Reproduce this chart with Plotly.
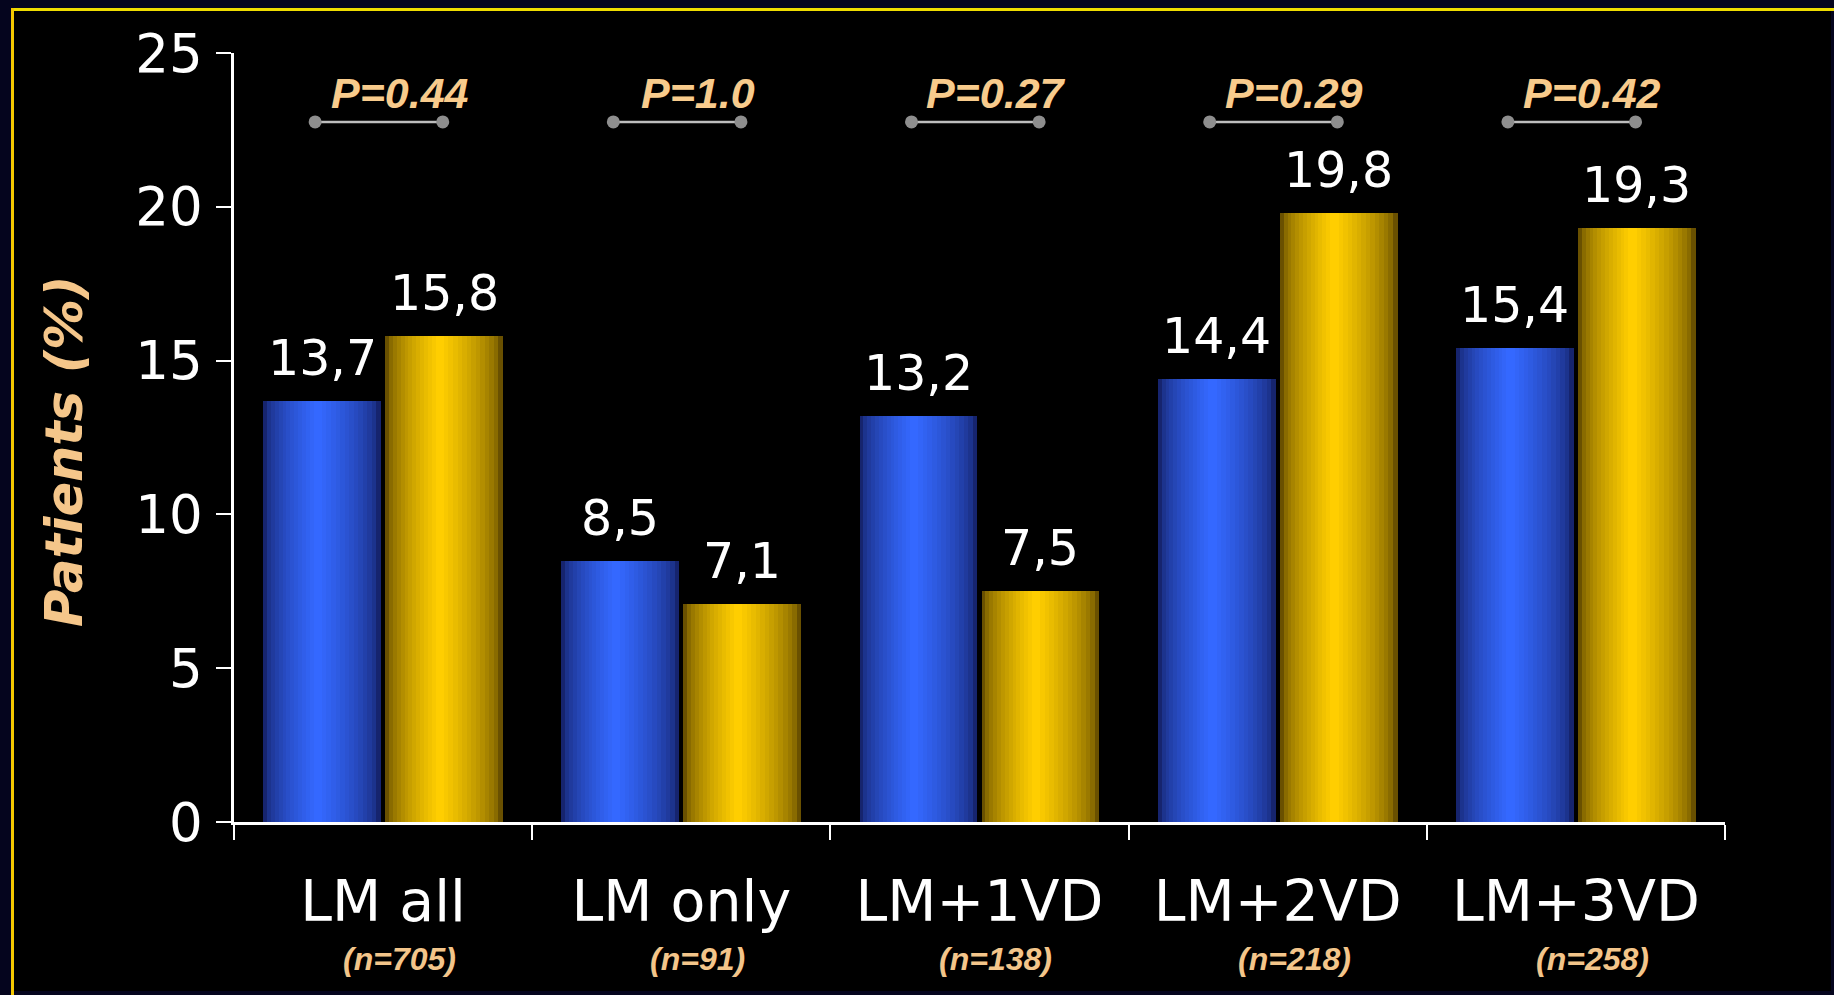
import plotly.graph_objects as go

# ---- data ---------------------------------------------------------------
categories = ["LM all", "LM only", "LM+1VD", "LM+2VD", "LM+3VD"]
n_counts = [705, 91, 138, 218, 258]
blue_values = [13.7, 8.5, 13.2, 14.4, 15.4]
gold_values = [15.8, 7.1, 7.5, 19.8, 19.3]
p_values = ["0.44", "1.0", "0.27", "0.29", "0.42"]

# ---- layout constants (pixels) -------------------------------------------
W, H = 1834, 995
ML, MR, MT, MB = 234, 109, 53, 173
PW, PH = W - ML - MR, H - MT - MB


def px_x(px):
    return (px - ML) / PW


def px_y(py):
    return (H - MB - py) / PH


def mix(c1, c2, t):
    r = [round(a + (b - a) * t) for a, b in zip(c1, c2)]
    return "rgb({},{},{})".format(*r)


def fmt(v):
    return f"{v:.1f}".replace(".", ",")


fig = go.Figure()

# cylinder-like shading: stacked layers, dark edges to bright core
BAR_W = 0.395
N_LAYERS = 14
series = [
    (blue_values, -0.402, (22, 36, 110), (52, 104, 255)),
    (gold_values, 0.007, (105, 80, 0), (255, 206, 0)),
]
for values, start, edge, core in series:
    for k in range(N_LAYERS):
        frac = 1 - k / N_LAYERS
        w = BAR_W * frac
        off = start + (BAR_W - w) * 0.46
        t = (k / (N_LAYERS - 1)) ** 0.6
        fig.add_trace(go.Bar(
            x=categories, y=values, width=w, offset=off,
            marker=dict(color=mix(edge, core, t), line=dict(width=0)),
            hoverinfo="skip", showlegend=False,
        ))

# value labels above the bars
annotations = []
for i, (b, g) in enumerate(zip(blue_values, gold_values)):
    for v, c in ((b, -0.402 + BAR_W / 2), (g, 0.007 + BAR_W / 2)):
        annotations.append(dict(
            x=i + c, y=v, xref="x", yref="y", text=fmt(v), showarrow=False,
            yanchor="bottom", yshift=12,
            font=dict(family="DejaVu Sans", size=49, color="white"),
        ))

# significance brackets with p-values (drawn on a linear twin of the x axis)
for i, p in enumerate(p_values):
    fig.add_trace(go.Scatter(
        x=[i - 0.228, i + 0.200], y=[22.76, 22.76], mode="lines+markers",
        xaxis="x2", yaxis="y",
        line=dict(color="#bdbdbd", width=2.5),
        marker=dict(color="#8e8e8e", size=13),
        hoverinfo="skip", showlegend=False,
    ))
    annotations.append(dict(
        x=i + 0.055, y=23.7, xref="x", yref="y", text=f"P={p}",
        showarrow=False,
        font=dict(family="Liberation Sans", size=43, color="#F8CB8C",
                  weight="bold", style="italic"),
    ))

# group sizes under the category names
for i, n in enumerate(n_counts):
    annotations.append(dict(
        x=i + 0.055, y=px_y(959), xref="x", yref="paper", text=f"(n={n})",
        showarrow=False, yanchor="middle",
        font=dict(family="Liberation Sans", size=32, color="#F3C58A",
                  weight="bold", style="italic"),
    ))

# y axis title
annotations.append(dict(
    x=px_x(64), y=px_y(451), xref="paper", yref="paper", text="Patients (%)",
    textangle=-90, showarrow=False, xanchor="center", yanchor="middle",
    font=dict(family="DejaVu Sans", size=51, color="#F5C68A",
              weight="bold", style="italic"),
))

shapes = [
    # black panel inside the frame
    dict(type="rect", xref="paper", yref="paper", layer="below",
         x0=px_x(14), x1=px_x(1831), y0=px_y(991), y1=px_y(11),
         fillcolor="black", line=dict(width=0)),
    # yellow frame lines (top and left)
    dict(type="line", xref="paper", yref="paper",
         x0=px_x(11), x1=px_x(W), y0=px_y(9.5), y1=px_y(9.5),
         line=dict(color="#EEDC00", width=3)),
    dict(type="line", xref="paper", yref="paper",
         x0=px_x(12.5), x1=px_x(12.5), y0=px_y(8), y1=px_y(H),
         line=dict(color="#F4C800", width=3)),
]

fig.update_layout(
    width=W, height=H,
    margin=dict(l=ML, r=MR, t=MT, b=MB, pad=0),
    paper_bgcolor="#05051e", plot_bgcolor="black",
    barmode="overlay", bargap=0,
    showlegend=False,
    annotations=annotations, shapes=shapes,
    xaxis=dict(
        type="category", range=[-0.5, 4.5],
        showline=True, linecolor="white", linewidth=2.5,
        ticks="outside", tickson="boundaries", ticklen=15, tickwidth=2,
        tickcolor="white", showgrid=False, zeroline=False,
        tickfont=dict(family="DejaVu Sans", size=57, color="white"),
        ticklabelstandoff=28,
    ),
    xaxis2=dict(
        type="linear", range=[-0.5, 4.5], overlaying="x",
        visible=False, showgrid=False, zeroline=False,
    ),
    yaxis=dict(
        range=[0, 25], tickvals=[0, 5, 10, 15, 20, 25],
        showline=True, linecolor="white", linewidth=2.5,
        ticks="outside", ticklen=15, tickwidth=2, tickcolor="white",
        showgrid=False, zeroline=False,
        tickfont=dict(family="DejaVu Sans", size=53, color="white"),
        ticklabelstandoff=3,
    ),
)

fig.write_html("out.html")
